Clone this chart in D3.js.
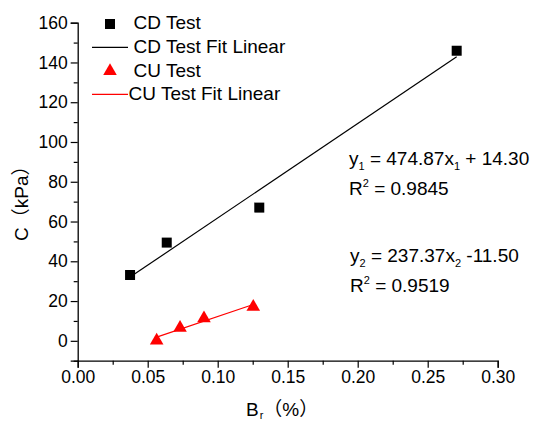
<!DOCTYPE html>
<html>
<head>
<meta charset="utf-8">
<script src="https://cdn.jsdelivr.net/npm/d3@7"></script>
<style>
  html, body { margin: 0; padding: 0; background: #fff; }
  svg { display: block; }
  text { font-family: "Liberation Sans", Arial, "Noto Sans CJK SC", sans-serif; fill: #000; }
</style>
</head>
<body>
<svg id="chart" width="533" height="423"></svg>
<script>
// Cohesion C versus Br, consolidated-drained and consolidated-undrained tests
const cdX = [0.0374, 0.0636, 0.1297, 0.2707];
const cdY = [33.1, 49.4, 67.0, 145.9];
const cuX = [0.0564, 0.0731, 0.0902, 0.1254];
const cuY = [0.8, 7.2, 12.0, 17.7];

// Linear fits: [slope, intercept]
const cdFit = [474.87, 14.30];
const cuFit = [237.37, -11.50];

const xTicks = [0, 0.05, 0.10, 0.15, 0.20, 0.25, 0.30];
const yTicks = [0, 20, 40, 60, 80, 100, 120, 140, 160];
const xMinor = [0.025, 0.075, 0.125, 0.175, 0.225, 0.275];
const yMinor = [-10, 10, 30, 50, 70, 90, 110, 130, 150];

const legendLabels = ["CD Test", "CD Test Fit Linear", "CU Test", "CU Test Fit Linear"];
const eqText1 = ["y", "1", " = 474.87x", "1", " + 14.30"];
const eqText2 = ["y", "2", " = 237.37x", "2", " -11.50"];
const r2Values = ["0.9845", "0.9519"];

const svg = d3.select("#chart");
const x = d3.scaleLinear().domain([0, 0.30]).range([77.7, 497.7]);
const y = d3.scaleLinear().domain([-10, 160]).range([360.7, 22.7]);

const RED = "#ff0000";
const FS_TICK = 17.5;
const FS_TEXT = 19;

// Axes
svg.append("g").attr("transform", `translate(0,${y(-10)})`)
  .call(d3.axisBottom(x).tickValues(xTicks).tickFormat(d3.format(".2f")).tickSize(7).tickPadding(3));
svg.append("g").attr("transform", `translate(0,${y(-10)})`)
  .call(d3.axisBottom(x).tickValues(xMinor).tickFormat("").tickSize(4))
  .call(g => g.select(".domain").remove());

svg.append("g").attr("transform", `translate(${x(0)},0)`)
  .call(d3.axisLeft(y).tickValues(yTicks).tickFormat(d3.format("d")).tickSize(7).tickPadding(3));
svg.append("g").attr("transform", `translate(${x(0)},0)`)
  .call(d3.axisLeft(y).tickValues(yMinor).tickFormat("").tickSize(4))
  .call(g => g.select(".domain").remove());

svg.selectAll(".domain").attr("stroke", "#000").attr("stroke-width", 1.3);
svg.selectAll(".tick line").attr("stroke", "#000").attr("stroke-width", 1.2);
svg.selectAll(".tick text").attr("font-size", FS_TICK)
  .attr("font-family", "'Liberation Sans', Arial, sans-serif").attr("fill", "#000");

// Axis titles
const xt = svg.append("text").attr("x", 246).attr("y", 416).attr("font-size", 19);
xt.append("tspan").text("B");
xt.append("tspan").attr("font-size", 11).attr("dx", 1).attr("dy", 3).text("r");
xt.append("tspan").attr("dy", -3).text("（%）");

svg.append("text")
  .attr("transform", "translate(28,241) rotate(-90)")
  .attr("font-size", 19)
  .text("C（kPa）");

// Fit lines
function fitLine(fit, xs, color) {
  const x0 = d3.min(xs), x1 = d3.max(xs);
  svg.append("line")
    .attr("x1", x(x0)).attr("y1", y(fit[0] * x0 + fit[1]))
    .attr("x2", x(x1)).attr("y2", y(fit[0] * x1 + fit[1]))
    .attr("stroke", color).attr("stroke-width", 1.2);
}
fitLine(cdFit, cdX, "#000");
fitLine(cuFit, cuX, RED);

// Markers
const square = d3.symbol().type(d3.symbolSquare).size(100);
const triangle = d3.symbol().type(d3.symbolTriangle).size(80);

svg.append("g").selectAll("path").data(d3.zip(cdX, cdY)).join("path")
  .attr("d", square).attr("fill", "#000")
  .attr("transform", d => `translate(${x(d[0])},${y(d[1])})`);

svg.append("g").selectAll("path").data(d3.zip(cuX, cuY)).join("path")
  .attr("d", triangle).attr("fill", RED)
  .attr("transform", d => `translate(${x(d[0])},${y(d[1]) + 1.3})`);

// Legend
const lg = svg.append("g");
lg.append("path").attr("d", square).attr("fill", "#000").attr("transform", "translate(110,24)");
lg.append("line").attr("x1", 92).attr("x2", 128).attr("y1", 47.3).attr("y2", 47.3).attr("stroke", "#000").attr("stroke-width", 1.2);
lg.append("path").attr("d", triangle).attr("fill", RED).attr("transform", "translate(110,71)");
lg.append("line").attr("x1", 92).attr("x2", 128).attr("y1", 94.3).attr("y2", 94.3).attr("stroke", RED).attr("stroke-width", 1.2);
const legendPos = [[133.5, 29], [133.5, 53], [133.5, 76.5], [128.5, 100]];
legendLabels.forEach((t, i) => {
  lg.append("text").attr("x", legendPos[i][0]).attr("y", legendPos[i][1]).attr("font-size", FS_TEXT).text(t);
});

// Regression equations
function equation(parts, r2, xPos, yPos) {
  const t = svg.append("text").attr("x", xPos).attr("y", yPos).attr("font-size", FS_TEXT);
  parts.forEach((p, i) => {
    if (i % 2 === 1) {
      t.append("tspan").attr("font-size", 11).attr("dy", 5).text(p);
    } else {
      t.append("tspan").attr("dy", i === 0 ? 0 : -5).text(p);
    }
  });
  const r = svg.append("text").attr("x", xPos).attr("y", yPos + 30).attr("font-size", FS_TEXT);
  r.append("tspan").text("R");
  r.append("tspan").attr("font-size", 11).attr("dy", -8).text("2");
  r.append("tspan").attr("dy", 8).text(" = " + r2);
}
equation(eqText1, r2Values[0], 349, 165);
equation(eqText2, r2Values[1], 350, 262);
</script>
</body>
</html>
